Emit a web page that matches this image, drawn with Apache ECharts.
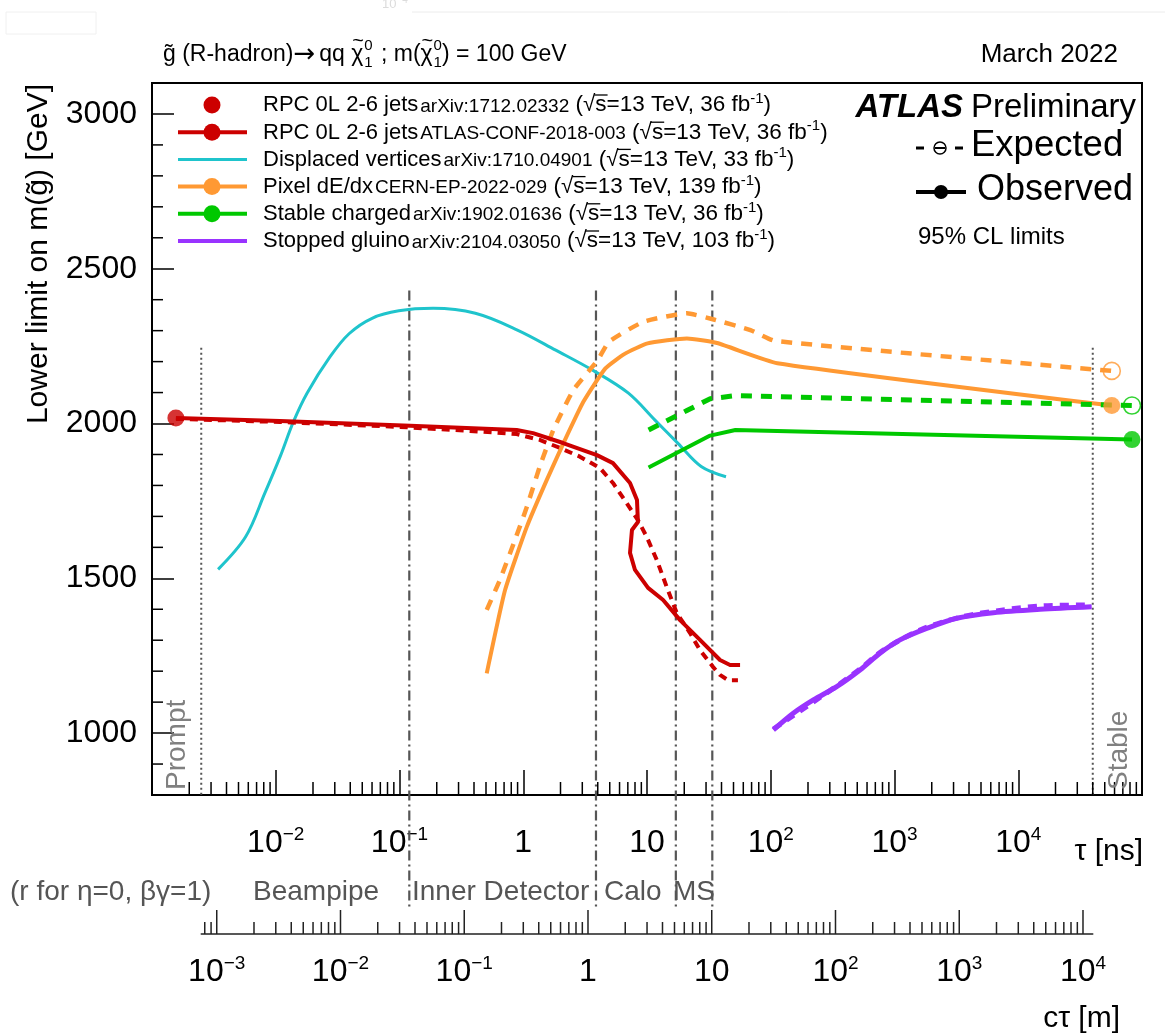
<!DOCTYPE html>
<html>
<head>
<meta charset="utf-8">
<title>Gluino R-hadron lifetime limits</title>
<script src="https://cdn.jsdelivr.net/npm/echarts@6/dist/echarts.min.js"></script>
<style>
html,body{margin:0;padding:0;background:#fff;}
#chart{width:1165px;height:1036px;}
</style>
</head>
<body>
<div id="chart"></div>
<script>
// ---------------- data: tau [ns], lower mass limit [GeV] ----------------
const rpcPrompt = [[1.56e-3, 2018]];
const rpcObs = [[1.56e-3,2018],[0.0108,2008],[0.122,1993],[0.885,1979],[1.20,1969],[2.10,1937],[3.94,1898],[5.31,1872],[7.29,1808],[8.30,1753],[8.45,1682],[7.56,1656],[7.29,1582],[8.0,1527],[10.2,1469],[13.5,1430],[18.5,1365],[26.8,1301],[38.9,1236],[46.9,1220],[56.5,1220]];
const rpcExp = [[1.56e-3,2015],[0.0108,2005],[0.101,1989],[0.372,1976],[0.885,1966],[1.36,1947],[1.98,1921],[2.87,1893],[4.17,1856],[5.31,1808],[6.85,1743],[8.45,1688],[9.95,1634],[12.0,1559],[14.4,1473],[17.4,1388],[22.3,1323],[26.8,1268],[34.1,1214],[38.9,1188],[45.2,1171],[54.3,1171]];
const dvObs = [[3.42e-3,1529],[5.71e-3,1634],[8.16e-3,1775],[0.01085,1893],[0.0139,2006],[0.0179,2098],[0.0274,2215],[0.0391,2290],[0.060,2340],[0.0987,2364],[0.187,2372],[0.41,2356],[0.897,2302],[1.83,2237],[3.72,2170],[7.08,2098],[11.6,2011],[17.8,1936],[27.4,1861],[43.5,1828]];
const pixelObs = [[0.507,1193],[0.713,1462],[1.07,1667],[1.55,1818],[2.11,1936],[3.06,2070],[4.61,2178],[6.6,2225],[10.1,2259],[21.0,2275],[36.8,2260],[113,2195],[57000,2058]];
const pixelExp = [[0.507,1398],[0.648,1495],[0.857,1624],[1.07,1731],[1.36,1861],[1.75,1979],[2.54,2108],[4.0,2205],[4.93,2264],[9.4,2329],[21.0,2356],[34.6,2336],[68.6,2302],[108,2267],[57000,2170]];
const stableObs = [[10.3,1858],[32.4,1961],[51.8,1979],[83000,1948]];
const stableExp = [[10.3,1979],[21.0,2042],[32.4,2080],[51.8,2090],[83000,2058]];
const stoppedObs = [[105,1010],[152,1064],[221,1107],[341,1150],[526,1204],[763,1258],[1108,1301],[1820,1338],[3180,1371],[6290,1389],[15000,1400],[39200,1408]];
const stoppedExp = [[105,1013],[341,1152],[526,1207],[813,1268],[1607,1333],[3380,1374],[7570,1398],[15950,1411],[38000,1414]];

const tauPrompt = 2.5e-3, tauStable = 4.0e4;            // ns
const detectorBoundaries = [0.12, 3.87, 17.1, 33.7];     // ns
const C_M_PER_NS = 0.299792458;

// ---------------- axes / labels ----------------
const tauRange = [1e-3, 1e5];
const massRange = [800, 3100];
const massMinor = [900,1100,1200,1300,1400,1600,1700,1800,1900,2100,2200,2300,2400,2600,2700,2800,2900];
const minorMult = [2,3,4,5,6,7,8,9];
const tauDecades = [-3,-2,-1,0,1,2,3,4];
const ctDecades = [-4,-3,-2,-1,0,1,2,3,4];
const legendMain = ['RPC 0L 2-6 jets','RPC 0L 2-6 jets','Displaced vertices','Pixel dE/dx','Stable charged','Stopped gluino'];
const legendRef  = ['arXiv:1712.02332','ATLAS-CONF-2018-003','arXiv:1710.04901','CERN-EP-2022-029','arXiv:1902.01636','arXiv:2104.03050'];
const legendLumi = ['36','36','33','139','36','103'];
const regionLabels = ['(r for \u03B7=0, \u03B2\u03B3=1)','Beampipe','Inner Detector','Calo','MS'];

const COL = {red:'#cc0000', cyan:'#1fc4cc', orange:'#ff9933', green:'#00c800', purple:'#9933ff', gray:'#555555'};
const FONT = '"Liberation Sans", Arial, Helvetica, sans-serif';
const FONT_SYM = '"DejaVu Sans", sans-serif';

const ctMin = C_M_PER_NS * tauPrompt, ctMax = C_M_PER_NS * tauStable;
const tauMinor = [];
tauDecades.forEach(d => minorMult.forEach(m => tauMinor.push(m * Math.pow(10, d))));
const ctMinor = [], ctMajor = [];
ctDecades.forEach(d => {
  const p = Math.pow(10, d);
  if (p >= ctMin && p <= ctMax) ctMajor.push(p);
  minorMult.forEach(m => { const v = m * p; if (v > ctMin && v < ctMax) ctMinor.push(v); });
});

// ---------------- helpers ----------------
function isPow10(v){ const l = Math.log10(v); return Math.abs(l - Math.round(l)) < 1e-6; }
function powLabel(v, hide){
  if (!isPow10(v)) return '';
  const e = Math.round(Math.log10(v));
  if (hide && hide.indexOf(e) >= 0) return '';
  if (e === 0) return '{b|1}';
  if (e === 1) return '{b|10}';
  return '{b|10}{s|' + (e < 0 ? '\u2212' + (-e) : e) + '}';
}
const axisRich = {
  b:{fontSize:32, fontFamily:FONT, color:'#000', lineHeight:36},
  s:{fontSize:19, fontFamily:FONT, color:'#000', lineHeight:20, verticalAlign:'top'}
};
const mctx = document.createElement('canvas').getContext('2d');
const MID = 0.3465;
function fstr(p){ return (p.i?'italic ':'') + (p.b?'bold ':'') + p.s + 'px ' + (p.f || FONT); }
function textRun(parts, x, yb, align, color){
  const ws = parts.map(p => { mctx.font = fstr(p); return mctx.measureText(p.t).width; });
  let total = 0; parts.forEach((p,i) => { if (!p.na) total += ws[i] + (p.g||0); });
  let cx = align === 'right' ? x - total : (align === 'center' ? x - total/2 : x);
  const out = [];
  parts.forEach((p,i) => {
    const col = p.c || color || '#000';
    out.push({type:'text', silent:true, x:cx + (p.dx||0), y:yb + (p.dy||0) - MID*p.s, z:100,
      style:{text:p.t, fontSize:p.s, fontFamily:p.f || FONT, fontWeight:p.b?'bold':'normal', fontStyle:p.i?'italic':'normal',
             fill:col, align:'left', verticalAlign:'middle', textAlign:'left', textVerticalAlign:'middle'}});
    if (p.ov) out.push({type:'line', silent:true, z:100, shape:{x1:cx-1, y1:yb-p.ov*p.s, x2:cx+ws[i]+1, y2:yb-p.ov*p.s}, style:{stroke:col, lineWidth:1.3}});
    if (!p.na) cx += ws[i] + (p.g||0);
  });
  return out;
}

// ---------------- series builders ----------------
function lineS(name, data, color, width, dash, smooth){
  return {type:'line', name, data, xAxisIndex:0, yAxisIndex:0, symbol:'none', showSymbol:false, silent:true,
          smooth: smooth || false, z:3, lineStyle:{color, width, type: dash || 'solid', cap:'butt', join:'round'}};
}
function dotS(name, pts, color, open){
  return {type:'scatter', name, data:pts, xAxisIndex:0, yAxisIndex:0, symbol:'circle', symbolSize:17, silent:true, z:4, clip:false,
          itemStyle: open ? {color:'rgba(0,0,0,0)', borderColor:color, borderWidth:1.6} : {color}};
}
function vTicks(xi, yi, vals, yRef, len, color, lw){
  return {type:'custom', xAxisIndex:xi, yAxisIndex:yi, silent:true, clip:false, z:6,
    data: vals.map(v => [v, yRef]),
    renderItem: (p, api) => { const pt = api.coord([api.value(0), api.value(1)]);
      return {type:'line', shape:{x1:pt[0], y1:pt[1], x2:pt[0], y2:pt[1]-len}, style:{stroke:color, lineWidth:lw}}; }};
}
function hTicks(vals, len){
  return {type:'custom', xAxisIndex:0, yAxisIndex:0, silent:true, clip:false, z:6,
    data: vals.map(v => [tauRange[0], v]),
    renderItem: (p, api) => { const pt = api.coord([api.value(0), api.value(1)]);
      return {type:'line', shape:{x1:pt[0], y1:pt[1], x2:pt[0]+len, y2:pt[1]}, style:{stroke:'#000', lineWidth:1.5}}; }};
}
function vLines(vals, topMass, extraBelow, dash, lw){
  return {type:'custom', xAxisIndex:0, yAxisIndex:0, silent:true, clip:false, z:1,
    data: vals.map(v => [v, massRange[0]]),
    renderItem: (p, api) => { const b = api.coord([api.value(0), api.value(1)]); const t = api.coord([api.value(0), topMass]);
      return {type:'line', shape:{x1:b[0], y1:t[1], x2:b[0], y2:b[1]+extraBelow}, style:{stroke:COL.gray, lineWidth:lw, lineDash:dash}}; }};
}

// ---------------- graphics (legend, titles) ----------------
const G = [];
// faint artefacts at the top of the picture
G.push({type:'line', silent:true, shape:{x1:412,y1:12,x2:1165,y2:12}, style:{stroke:'#ececec', lineWidth:1}});
G.push({type:'rect', silent:true, shape:{x:6,y:12,width:90,height:22}, style:{fill:'none', stroke:'#f0f0f0', lineWidth:1}});
G.push(...textRun([{t:'10', s:13},{t:'\u2212'+'4', s:10, dy:-5}], 382, 9, 'left', '#dcdcdc'));

// title
G.push(...textRun([
  {t:'g\u0303 (R-hadron)', s:23},
  {t:'\u2192', s:26, f:FONT_SYM, g:4, dy:1},
  {t:'qq ', s:23},
  {t:'~', s:20, dy:-15, dx:1, na:true},
  {t:'\u03C7', s:23, g:1},
  {t:'0', s:15, dy:-12, na:true},
  {t:'1', s:15, dy:5, g:2},
  {t:' ; m(', s:23},
  {t:'~', s:20, dy:-15, dx:1, na:true},
  {t:'\u03C7', s:23, g:1},
  {t:'0', s:15, dy:-12, na:true},
  {t:'1', s:15, dy:5},
  {t:') = 100 GeV', s:23}], 163, 63, 'left'));
G.push(...textRun([{t:'March 2022', s:26}], 1118, 64, 'right'));

// left legend
const legY0 = 113, legDY = 27.2;
const legColors = [COL.red, COL.red, COL.cyan, COL.orange, COL.green, COL.purple];
const legLine = [false, true, true, true, true, true];
const legDot = [true, true, false, true, true, false];
const legLW = [0, 4, 3, 4, 4, 4];
for (let i = 0; i < 6; i++) {
  const yb = legY0 + i*legDY, ym = yb - 8;
  if (legLine[i]) G.push({type:'line', silent:true, shape:{x1:178,y1:ym,x2:247,y2:ym}, style:{stroke:legColors[i], lineWidth:legLW[i]}});
  if (legDot[i]) G.push({type:'circle', silent:true, shape:{cx:212, cy:ym, r:8.5}, style:{fill:legColors[i]}});
  G.push(...textRun([{t:legendMain[i], s:22, g:2},{t:legendRef[i], s:19},{t:' (', s:22.5},{t:'\u221A', s:22.5},{t:'s', s:22.5, ov:0.80},
    {t:'=13 TeV, ' + legendLumi[i] + ' fb', s:22.5},{t:'-1', s:15, dy:-9},{t:')', s:22.5}], 263, yb, 'left'));
}

// right legend
G.push(...textRun([{t:'ATLAS', s:33, b:true, i:true, g:8},{t:'Preliminary', s:33}], 1136, 119, 'right'));
G.push({type:'line', silent:true, shape:{x1:916,y1:148,x2:924,y2:148}, style:{stroke:'#000', lineWidth:3}});
G.push({type:'circle', silent:true, shape:{cx:940, cy:148, r:6}, style:{fill:'none', stroke:'#000', lineWidth:1.5}});
G.push({type:'line', silent:true, shape:{x1:935,y1:148,x2:945,y2:148}, style:{stroke:'#000', lineWidth:2}});
G.push({type:'line', silent:true, shape:{x1:955,y1:148,x2:963,y2:148}, style:{stroke:'#000', lineWidth:3}});
G.push(...textRun([{t:'Expected', s:36.5}], 971, 159, 'left'));
G.push({type:'line', silent:true, shape:{x1:916,y1:192,x2:966,y2:192}, style:{stroke:'#000', lineWidth:4}});
G.push({type:'circle', silent:true, shape:{cx:941, cy:192, r:7}, style:{fill:'#000'}});
G.push(...textRun([{t:'Observed', s:36}], 977, 203, 'left'));
G.push(...textRun([{t:'95% CL limits', s:24}], 918, 246, 'left'));

// y-axis title (rotated)
G.push({type:'group', x:49, y:84, rotation:Math.PI/2, children: textRun([{t:'Lower limit on m(g\u0303) [GeV]', s:30}], 0, 0, 'right')});
// Prompt / Stable
G.push({type:'group', x:187, y:790, rotation:Math.PI/2, children: textRun([{t:'Prompt', s:28}], 0, 0, 'left', '#808080')});
G.push({type:'group', x:1129, y:790, rotation:Math.PI/2, children: textRun([{t:'Stable', s:28}], 0, 0, 'left', '#808080')});
// axis titles
G.push(...textRun([{t:'\u03C4 [ns]', s:30}], 1143, 862, 'right'));
G.push(...textRun([{t:'c\u03C4 [m]', s:30}], 1120, 1029, 'right'));
// detector region labels
const regionX = [10, 253, 412, 604, 673];
regionLabels.forEach((t, i) => G.push(...textRun([{t, s:28}], regionX[i], 902, 'left', '#555')));

// ---------------- option ----------------
const option = {
  animation:false,
  backgroundColor:'#fff',
  grid:[
    {left:152, top:83, width:990, height:712, show:true, borderColor:'#000', borderWidth:2, backgroundColor:'rgba(0,0,0,0)', containLabel:false, outerBoundsMode:'none'},
    {left:201, top:933, width:891, height:1, show:false, containLabel:false, outerBoundsMode:'none'}
  ],
  xAxis:[
    {type:'log', logBase:10, gridIndex:0, min:tauRange[0], max:tauRange[1], position:'bottom',
     axisLine:{show:true, lineStyle:{color:'#000', width:2}},
     axisTick:{show:true, inside:true, length:25, lineStyle:{color:'#000', width:1.5}},
     axisLabel:{show:true, margin:30, formatter:v => powLabel(v, [-3, 5]), rich:axisRich, showMinLabel:false, showMaxLabel:false},
     splitLine:{show:false}, minorTick:{show:false}, minorSplitLine:{show:false}},
    {type:'log', logBase:10, gridIndex:1, min:ctMin, max:ctMax, position:'bottom',
     axisLine:{show:true, lineStyle:{color:'#222', width:1.5}},
     axisTick:{show:false},
     axisLabel:{show:true, margin:20, formatter:v => powLabel(v), rich:axisRich},
     splitLine:{show:false}, minorTick:{show:false}}
  ],
  yAxis:[
    {type:'value', gridIndex:0, min:massRange[0], max:massRange[1],
     axisLine:{show:true, lineStyle:{color:'#000', width:2}},
     axisTick:{show:true, inside:true, length:22, lineStyle:{color:'#000', width:1.5}},
     axisLabel:{show:true, margin:15, fontSize:32, fontFamily:FONT, color:'#000', showMinLabel:false, showMaxLabel:false,
                formatter:v => (v % 500 === 0 ? String(v) : '')},
     splitLine:{show:false}},
    {type:'value', gridIndex:1, min:0, max:1, show:false}
  ],
  graphic:{elements:G},
  series:[
    vLines(detectorBoundaries, 2430, 113, [10,4,2,4], 2.2),
    vLines([tauPrompt, tauStable], 2245, 0, [2,3], 2),
    lineS('Displaced vertices obs', dvObs, COL.cyan, 3, null, 0.35),
    lineS('Pixel dE/dx exp', pixelExp, COL.orange, 4.5, [11,9], 0.15),
    lineS('Pixel dE/dx obs', pixelObs, COL.orange, 4, null, 0.15),
    lineS('Stable charged exp', stableExp, COL.green, 5, [11,9]),
    lineS('Stable charged obs', stableObs, COL.green, 4),
    lineS('Stopped gluino exp', stoppedExp, COL.purple, 5, [9,7], 0.3),
    lineS('Stopped gluino obs', stoppedObs, COL.purple, 5, null, 0.3),
    lineS('RPC exp', rpcExp, COL.red, 4, [8,6]),
    lineS('RPC obs', rpcObs, COL.red, 4),
    dotS('RPC prompt', rpcPrompt, COL.red, false),
    dotS('Pixel obs stable', [pixelObs[pixelObs.length-1]], COL.orange, false),
    dotS('Stable obs', [stableObs[stableObs.length-1]], COL.green, false),
    dotS('Pixel exp stable', [pixelExp[pixelExp.length-1]], COL.orange, true),
    dotS('Stable exp', [stableExp[stableExp.length-1]], COL.green, true),
    vTicks(0, 0, tauMinor, massRange[0], 13, '#000', 1.5),
    hTicks(massMinor, 11),
    vTicks(1, 1, ctMajor, 0, 24, '#222', 1.5),
    vTicks(1, 1, ctMinor, 0, 12, '#222', 1.5)
  ]
};

const chart = echarts.init(document.getElementById('chart'), null, {renderer:'canvas'});
chart.setOption(option);
// align the c*tau axis with the prompt/stable lines using the tau axis scale
const pxA = chart.convertToPixel({xAxisIndex:0}, tauPrompt);
const pxB = chart.convertToPixel({xAxisIndex:0}, tauStable);
chart.setOption({grid:[{}, {left:pxA, width:pxB - pxA}]});
</script>
</body>
</html>
